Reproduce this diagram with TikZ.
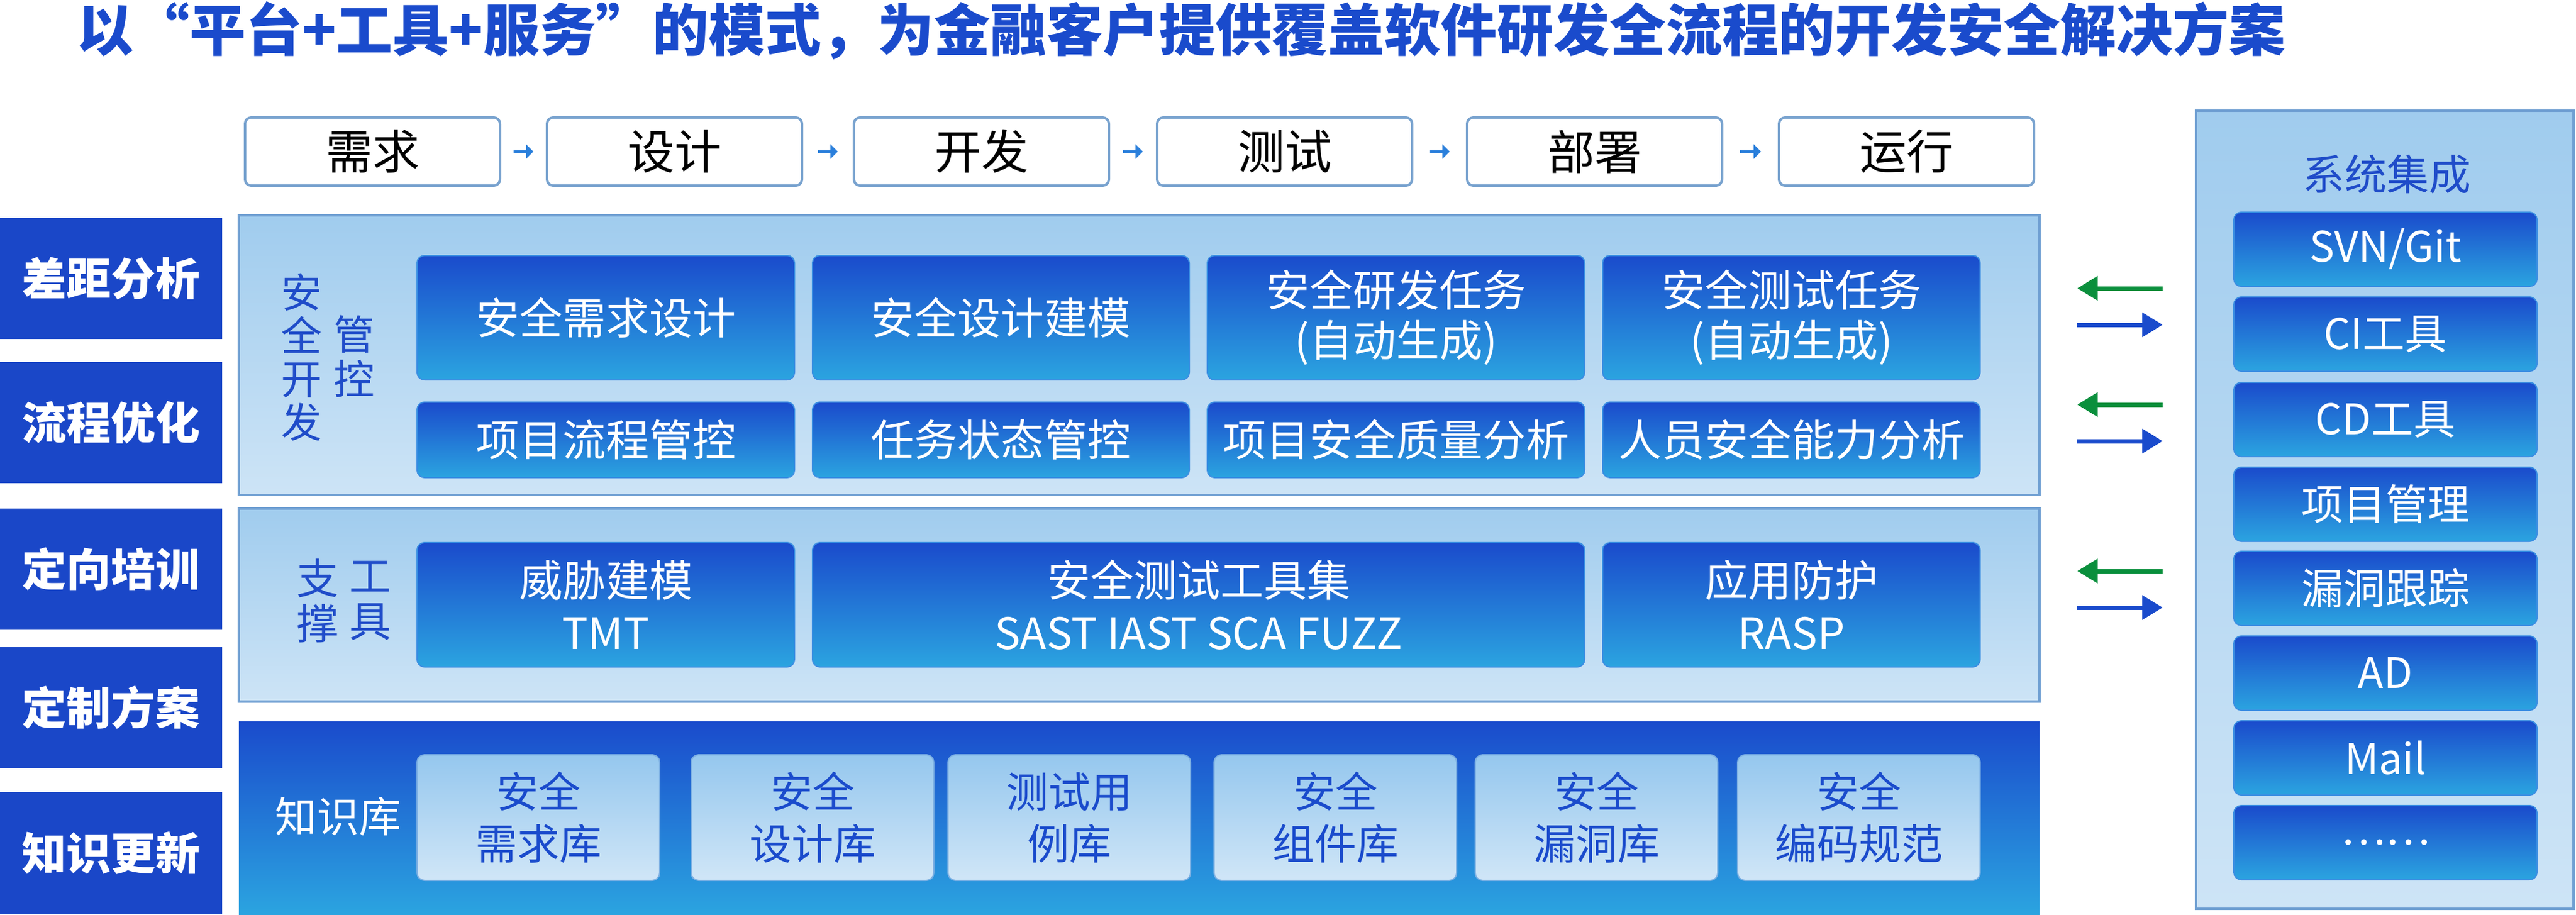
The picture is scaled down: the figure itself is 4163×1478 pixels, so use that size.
\documentclass[tikz,border=0pt]{standalone}
\usepackage{fontspec}
\setmainfont{Noto Sans CJK SC}
\usetikzlibrary{arrows.meta,calc}
\definecolor{tblue}{HTML}{1A4BCC}
\definecolor{sideBlue}{HTML}{1F4CC9}
\definecolor{lbox}{HTML}{1A47C8}
\definecolor{pnlTop}{HTML}{A0CCEE}
\definecolor{pnlBot}{HTML}{CDE4F6}
\definecolor{pnlLine}{HTML}{6F9FD2}
\definecolor{dkTop}{HTML}{1A4BCC}
\definecolor{dkBot}{HTML}{2BA4E0}
\definecolor{dkEdge}{HTML}{3A8EE2}
\definecolor{ltTop}{HTML}{95C7EE}
\definecolor{ltBot}{HTML}{D0E6F7}
\definecolor{ltEdge}{HTML}{7DB0E3}
\definecolor{stageLine}{HTML}{79A3CF}
\definecolor{arrGreen}{HTML}{0A8F3C}
\definecolor{arrBlue}{HTML}{1A4BCC}
\definecolor{sArr}{HTML}{2A7FDB}
\tikzset{
  base/.style={inner sep=0pt, outer sep=0pt, anchor=north west},
  stagebox/.style={base, draw=stageLine, line width=4pt, fill=white, rounded corners=10pt,
    minimum width=412pt, minimum height=110pt, text=black, font=\fontsize{76}{80}\selectfont},
  panel/.style={base, draw=pnlLine, line width=4pt, top color=pnlTop, bottom color=pnlBot},
  kpanel/.style={base, top color=dkTop, bottom color=dkBot},
  dkbox/.style={base, rounded corners=12pt, top color=dkTop, bottom color=dkBot, draw=dkEdge,
    line width=2pt, text=white, align=center, font=\fontsize{70}{81}\selectfont},
  ltbox/.style={base, rounded corners=12pt, top color=ltTop, bottom color=ltBot, draw=ltEdge,
    line width=2pt, text=tblue, align=center, minimum width=392pt, minimum height=203pt,
    font=\fontsize{68}{84}\selectfont},
  leftbox/.style={base, fill=lbox, minimum width=359pt, minimum height=196pt, text=white,
    font=\bfseries\fontsize{72}{72}\selectfont},
  sidetxt/.style={inner sep=0pt, outer sep=0pt, text=sideBlue, align=center},
  sysbox/.style={base, rounded corners=12pt, top color=dkTop, bottom color=dkBot, draw=dkEdge,
    line width=2pt, text=white, minimum width=490pt, minimum height=120pt,
    font=\fontsize{68}{72}\selectfont},
  sarr/.style={draw=sArr, line width=5pt, -{Triangle[length=12pt,width=23pt]},
    shorten <=#1, shorten >=#1},
  garr/.style={draw=arrGreen, line width=7pt, -{Triangle[length=33pt,width=38pt]},
    shorten <=54pt, shorten >=61pt},
  barr/.style={draw=arrBlue, line width=7pt, -{Triangle[length=33pt,width=38pt]},
    shorten <=61pt, shorten >=54pt},
}
\begin{document}
\begin{tikzpicture}[x=1pt,y=-1pt]
\useasboundingbox (0,0) rectangle (4163,1478);
\fill[white] (0,0) rectangle (4163,1478);

% title
\node[anchor=base west, inner sep=0pt, text=tblue, font=\bfseries\fontsize{91}{91}\selectfont] (title) at (124,82)
  {以“平台+工具+服务”的模式，为金融客户提供覆盖软件研发全流程的开发安全解决方案};

% stages
\foreach \n/\x/\t in {s1/396/需求, s2/884/设计, s3/1380/开发, s4/1870/测试, s5/2371/部署, s6/2875/运行}
  \node[stagebox] (\n) at (\x,190) {\t};
\draw[sarr=22pt] (s1) -- (s2);
\draw[sarr=26pt] (s2) -- (s3);
\draw[sarr=23pt] (s3) -- (s4);
\draw[sarr=28pt] (s4) -- (s5);
\draw[sarr=29pt] (s5) -- (s6);

% left column
\node[leftbox] (l1) at (0,352) {差距分析};
\node[leftbox] (l2) at (0,585) {流程优化};
\node[leftbox] (l3) at (0,822) {定向培训};
\node[leftbox] (l4) at (0,1046) {定制方案};
\node[leftbox, minimum height=198pt] (l5) at (0,1280) {知识更新};

% management panel
\node[panel, minimum width=2910pt, minimum height=452pt] (mgmt) at (386,348) {};
\node[sidetxt, font=\fontsize{66}{70}\selectfont] (mA) at (487,577) {安\\全\\开\\发};
\node[sidetxt, font=\fontsize{66}{72}\selectfont] (mB) at (572,576) {管\\控};
\node[dkbox, minimum width=610pt, minimum height=201pt] (a1) at (674,413) {安全需求设计};
\node[dkbox, minimum width=609pt, minimum height=201pt] (a2) at (1313,413) {安全设计建模};
\node[dkbox, minimum width=610pt, minimum height=201pt] (a3) at (1951,413) {安全研发任务\\(自动生成)};
\node[dkbox, minimum width=610pt, minimum height=201pt] (a4) at (2590,413) {安全测试任务\\(自动生成)};
\node[dkbox, minimum width=610pt, minimum height=122pt] (b1) at (674,650) {项目流程管控};
\node[dkbox, minimum width=609pt, minimum height=122pt] (b2) at (1313,650) {任务状态管控};
\node[dkbox, minimum width=610pt, minimum height=122pt] (b3) at (1951,650) {项目安全质量分析};
\node[dkbox, minimum width=610pt, minimum height=122pt] (b4) at (2590,650) {人员安全能力分析};

% tool panel
\node[panel, minimum width=2910pt, minimum height=312pt] (tool) at (386,822) {};
\node[sidetxt, font=\fontsize{68}{73}\selectfont] (tA) at (513,971) {支\\撑};
\node[sidetxt, font=\fontsize{68}{73}\selectfont] (tB) at (598,971) {工\\具};
\node[dkbox, minimum width=610pt, minimum height=201pt, font=\fontsize{70}{85}\selectfont] (c1) at (674,877) {威胁建模\\TMT};
\node[dkbox, minimum width=1248pt, minimum height=201pt, font=\fontsize{70}{85}\selectfont] (c2) at (1313,877) {安全测试工具集\\SAST IAST SCA FUZZ};
\node[dkbox, minimum width=610pt, minimum height=201pt, font=\fontsize{70}{85}\selectfont] (c3) at (2590,877) {应用防护\\RASP};

% knowledge panel
\node[kpanel, minimum width=2910pt, minimum height=312pt] (know) at (386,1166) {};
\node[inner sep=0pt, text=white, font=\fontsize{68}{72}\selectfont] (kA) at (546,1320) {知识库};
\node[ltbox] (k1) at (674,1220) {安全\\需求库};
\node[ltbox] (k2) at (1117,1220) {安全\\设计库};
\node[ltbox] (k3) at (1532,1220) {测试用\\例库};
\node[ltbox] (k4) at (1962,1220) {安全\\组件库};
\node[ltbox] (k5) at (2384,1220) {安全\\漏洞库};
\node[ltbox] (k6) at (2808,1220) {安全\\编码规范};

% system integration panel
\node[panel, minimum width=610pt, minimum height=1290pt] (sys) at (3549,179) {};
\node[sidetxt, font=\fontsize{68}{72}\selectfont] (sysT) at (3857,282) {系统集成};
\foreach \n/\y/\t in {r1/343/{SVN/Git}, r2/480/CI工具, r3/618/CD工具, r4/755/项目管理, r5/891/漏洞跟踪, r6/1028/AD, r7/1165/Mail, r8/1302/……}
  \node[sysbox] (\n) at (3610,\y) {\t};

% exchange arrows
\coordinate (y1) at (0,466);
\coordinate (y2) at (0,525);
\coordinate (y3) at (0,654);
\coordinate (y4) at (0,713);
\coordinate (y5) at (0,923);
\coordinate (y6) at (0,982);
\draw[garr] (sys.west |- y1) -- (mgmt.east |- y1);
\draw[barr] (mgmt.east |- y2) -- (sys.west |- y2);
\draw[garr] (sys.west |- y3) -- (mgmt.east |- y3);
\draw[barr] (mgmt.east |- y4) -- (sys.west |- y4);
\draw[garr] (sys.west |- y5) -- (tool.east |- y5);
\draw[barr] (tool.east |- y6) -- (sys.west |- y6);
\end{tikzpicture}
\end{document}
